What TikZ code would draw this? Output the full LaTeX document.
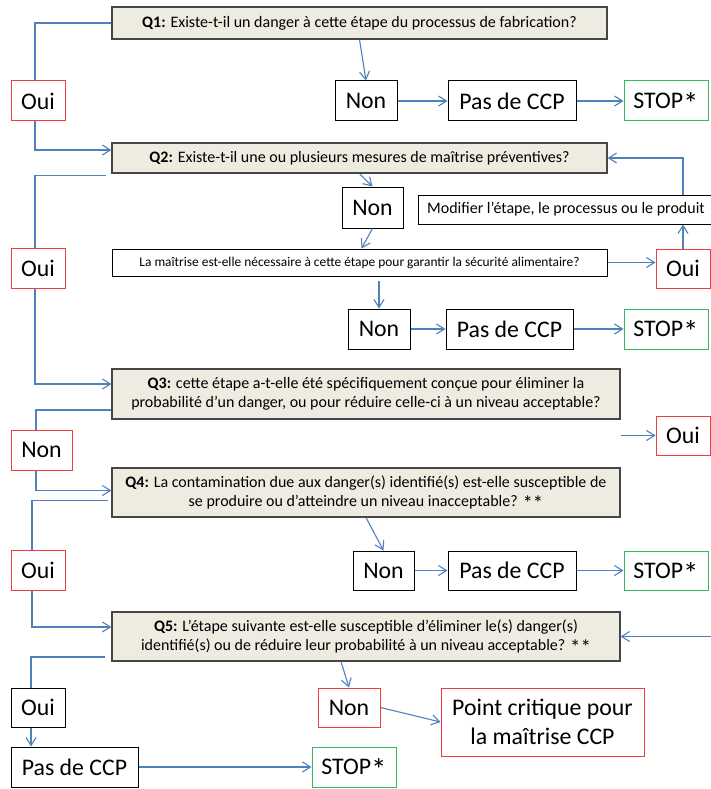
\documentclass[tikz,border=0pt]{standalone}
\usepackage{fontspec}
\setmainfont{Carlito}
\usetikzlibrary{arrows.meta}
\definecolor{qfill}{RGB}{238,236,225}
\definecolor{qdraw}{RGB}{70,70,70}
\definecolor{lnk}{RGB}{79,129,189}
\definecolor{redb}{RGB}{240,60,60}
\definecolor{greenb}{RGB}{50,185,100}
\newcommand{\myast}{\raisebox{-0.26em}[0pt][0pt]{\scalebox{1.3}{*}}}
\begin{document}
\begin{tikzpicture}[x=1pt,y=-1pt,
  box/.style={draw=black,line width=1pt,inner sep=0pt,align=center,font=\fontsize{23.8}{29}\selectfont,text=black},
  qbox/.style={draw=qdraw,fill=qfill,line width=1.2pt,inner sep=0pt,align=center,font=\fontsize{16}{19.5}\selectfont},
  wbox/.style={draw=black,fill=white,line width=1pt,inner sep=0pt,align=center},
  redbox/.style={box,draw=redb},
  greenbox/.style={box,draw=greenb},
  link/.style={draw=lnk,line width=1.1pt},
  arr/.style={link,-{Straight Barb[length=8pt,width=10pt]}}
]
\fill[white] (0,0) rectangle (711,789);
\path[use as bounding box] (0,0) rectangle (711,789);
\clip (0,0) rectangle (711,789);

% nodes
\node[qbox,minimum width=495pt,minimum height=32pt] (Q1) at (359.5,23) {\textbf{Q1:} Existe-t-il un danger à cette étape du processus de fabrication?};
\node[redbox,minimum width=54pt,minimum height=40pt] (oui1) at (38,101) {Oui};
\node[box,minimum width=62pt,minimum height=40pt] (non1) at (366,101) {Non};
\node[box,minimum width=128pt,minimum height=40pt] (pas1) at (512,101) {Pas de CCP};
\node[greenbox,minimum width=84pt,minimum height=40pt] (stop1) at (666,101) {STOP\myast};

\node[qbox,minimum width=495pt,minimum height=30pt] (Q2) at (359.5,158) {\textbf{Q2:} Existe-t-il une ou plusieurs mesures de maîtrise préventives?};
\node[box,minimum width=61pt,minimum height=41pt] (non2) at (372.5,207.5) {Non};
\node[wbox,minimum width=296pt,minimum height=29pt,font=\fontsize{16}{19}\selectfont] (modif) at (566,209.5) {Modifier l’étape, le processus ou le produit};
\node[redbox,minimum width=54pt,minimum height=40pt] (oui2) at (38,268) {Oui};
\node[wbox,minimum width=495pt,minimum height=27pt,font=\fontsize{13.4}{16}\selectfont] (mait) at (359.5,262.5) {La maîtrise est-elle nécessaire à cette étape pour garantir la sécurité alimentaire?};
\node[redbox,minimum width=54pt,minimum height=39pt] (oui3) at (683,268.5) {Oui};
\node[box,minimum width=62pt,minimum height=40pt] (non3) at (379,329) {Non};
\node[box,minimum width=127pt,minimum height=40pt] (pas2) at (509.5,329) {Pas de CCP};
\node[greenbox,minimum width=84pt,minimum height=40pt] (stop2) at (666,329) {STOP\myast};

\node[qbox,minimum width=508pt,minimum height=50pt] (Q3) at (366,394) {\textbf{Q3:} cette étape a-t-elle été spécifiquement conçue pour éliminer la\\probabilité d’un danger, ou pour réduire celle-ci à un niveau acceptable?};
\node[redbox,minimum width=61pt,minimum height=40pt] (nonL) at (41.5,450) {Non};
\node[redbox,minimum width=54pt,minimum height=39pt] (oui4) at (683,435.5) {Oui};

\node[qbox,minimum width=508pt,minimum height=49pt] (Q4) at (366,492.5) {\textbf{Q4:} La contamination due aux danger(s) identifié(s) est-elle susceptible de\\se produire ou d’atteindre un niveau inacceptable? \myast\myast};
\node[redbox,minimum width=54pt,minimum height=40pt] (oui5) at (38,570) {Oui};
\node[box,minimum width=61pt,minimum height=39pt] (non4) at (383.5,570.5) {Non};
\node[box,minimum width=128pt,minimum height=39pt] (pas3) at (512,570.5) {Pas de CCP};
\node[greenbox,minimum width=84pt,minimum height=39pt] (stop3) at (666,570.5) {STOP\myast};

\node[qbox,minimum width=508pt,minimum height=49pt] (Q5) at (366,636.5) {\textbf{Q5:} L’étape suivante est-elle susceptible d’éliminer le(s) danger(s)\\identifié(s) ou de réduire leur probabilité à un niveau acceptable? \myast\myast};
\node[box,minimum width=54pt,minimum height=39pt] (oui6) at (38,707.5) {Oui};
\node[redbox,minimum width=62pt,minimum height=39pt] (non5) at (349,707.5) {Non};
\node[redbox,minimum width=203pt,minimum height=68pt] (pc) at (542.5,722) {Point critique pour\\la maîtrise CCP};
\node[box,minimum width=127pt,minimum height=40pt] (pas4) at (74.5,767) {Pas de CCP};
\node[greenbox,minimum width=84pt,minimum height=40pt] (stop4) at (354,767) {STOP\myast};

% left-side connectors
\draw[link] (Q1.west) -| ([xshift=-3pt]oui1.north);
\draw[arr] ([xshift=-3pt]oui1.south) |- ([yshift=8pt]Q2.west);
\draw[link] ([xshift=-5pt,yshift=-2pt]Q2.south west) -| ([xshift=-3pt]oui2.north);
\draw[arr] ([xshift=-3pt]oui2.south) |- ([yshift=10pt]Q3.west);
\draw[link] ([yshift=-16pt]Q3.west) -| ([xshift=-5.5pt]nonL.north);
\draw[arr] ([xshift=-5.5pt]nonL.south) |- ([yshift=2pt]Q4.west);
\draw[link] ([xshift=-3pt,yshift=-8pt]Q4.west) -| ([xshift=-6pt]oui5.north);
\draw[arr] ([xshift=-6pt]oui5.south) |- ([yshift=9.5pt]Q5.west);
\draw[link] ([xshift=-6pt,yshift=-20.5pt]Q5.west) -| ([xshift=-7pt]oui6.north);
\coordinate (o6b) at ([xshift=-7pt]oui6.south);
\draw[arr] (o6b) -- (o6b |- pas4.north);

% right-side connectors
\draw[arr] (Q1.south) -- (non1.north);
\draw[arr] (non1.east) -- (pas1.west);
\draw[arr] (pas1.east) -- (stop1.west);
\draw[arr] (Q2.south) -- (non2.north);
\draw[arr] (non2.south) -- ([xshift=2pt]mait.north);
\draw[arr] (mait.east) -- (mait.east -| oui3.west);
\draw[arr] (oui3.north) -- (oui3.north |- modif.south);
\draw[arr] (oui3.north |- modif.north) |- (Q2.east);
\coordinate (mb) at ([yshift=-4pt]mait.south);
\draw[arr] (mb -| non3.north) -- (non3.north);
\draw[arr] (non3.east) -- (pas2.west);
\draw[arr] (pas2.east) -- (stop2.west);
\draw[arr] (Q3.south east |- oui4.west) -- (oui4.west);
\draw[arr] (oui4.east) -- ++(4,0) |- (Q5.east);
\draw[arr] (Q4.south) -- (non4.north);
\draw[arr] (non4.east) -- (pas3.west);
\draw[arr] (pas3.east) -- (stop3.west);
\draw[arr] ([xshift=-25pt]Q5.south) -- (non5.north);
\draw[arr] (non5.east) -- (pc.west);
\draw[arr] (pas4.east) -- (stop4.west);
\end{tikzpicture}
\end{document}
